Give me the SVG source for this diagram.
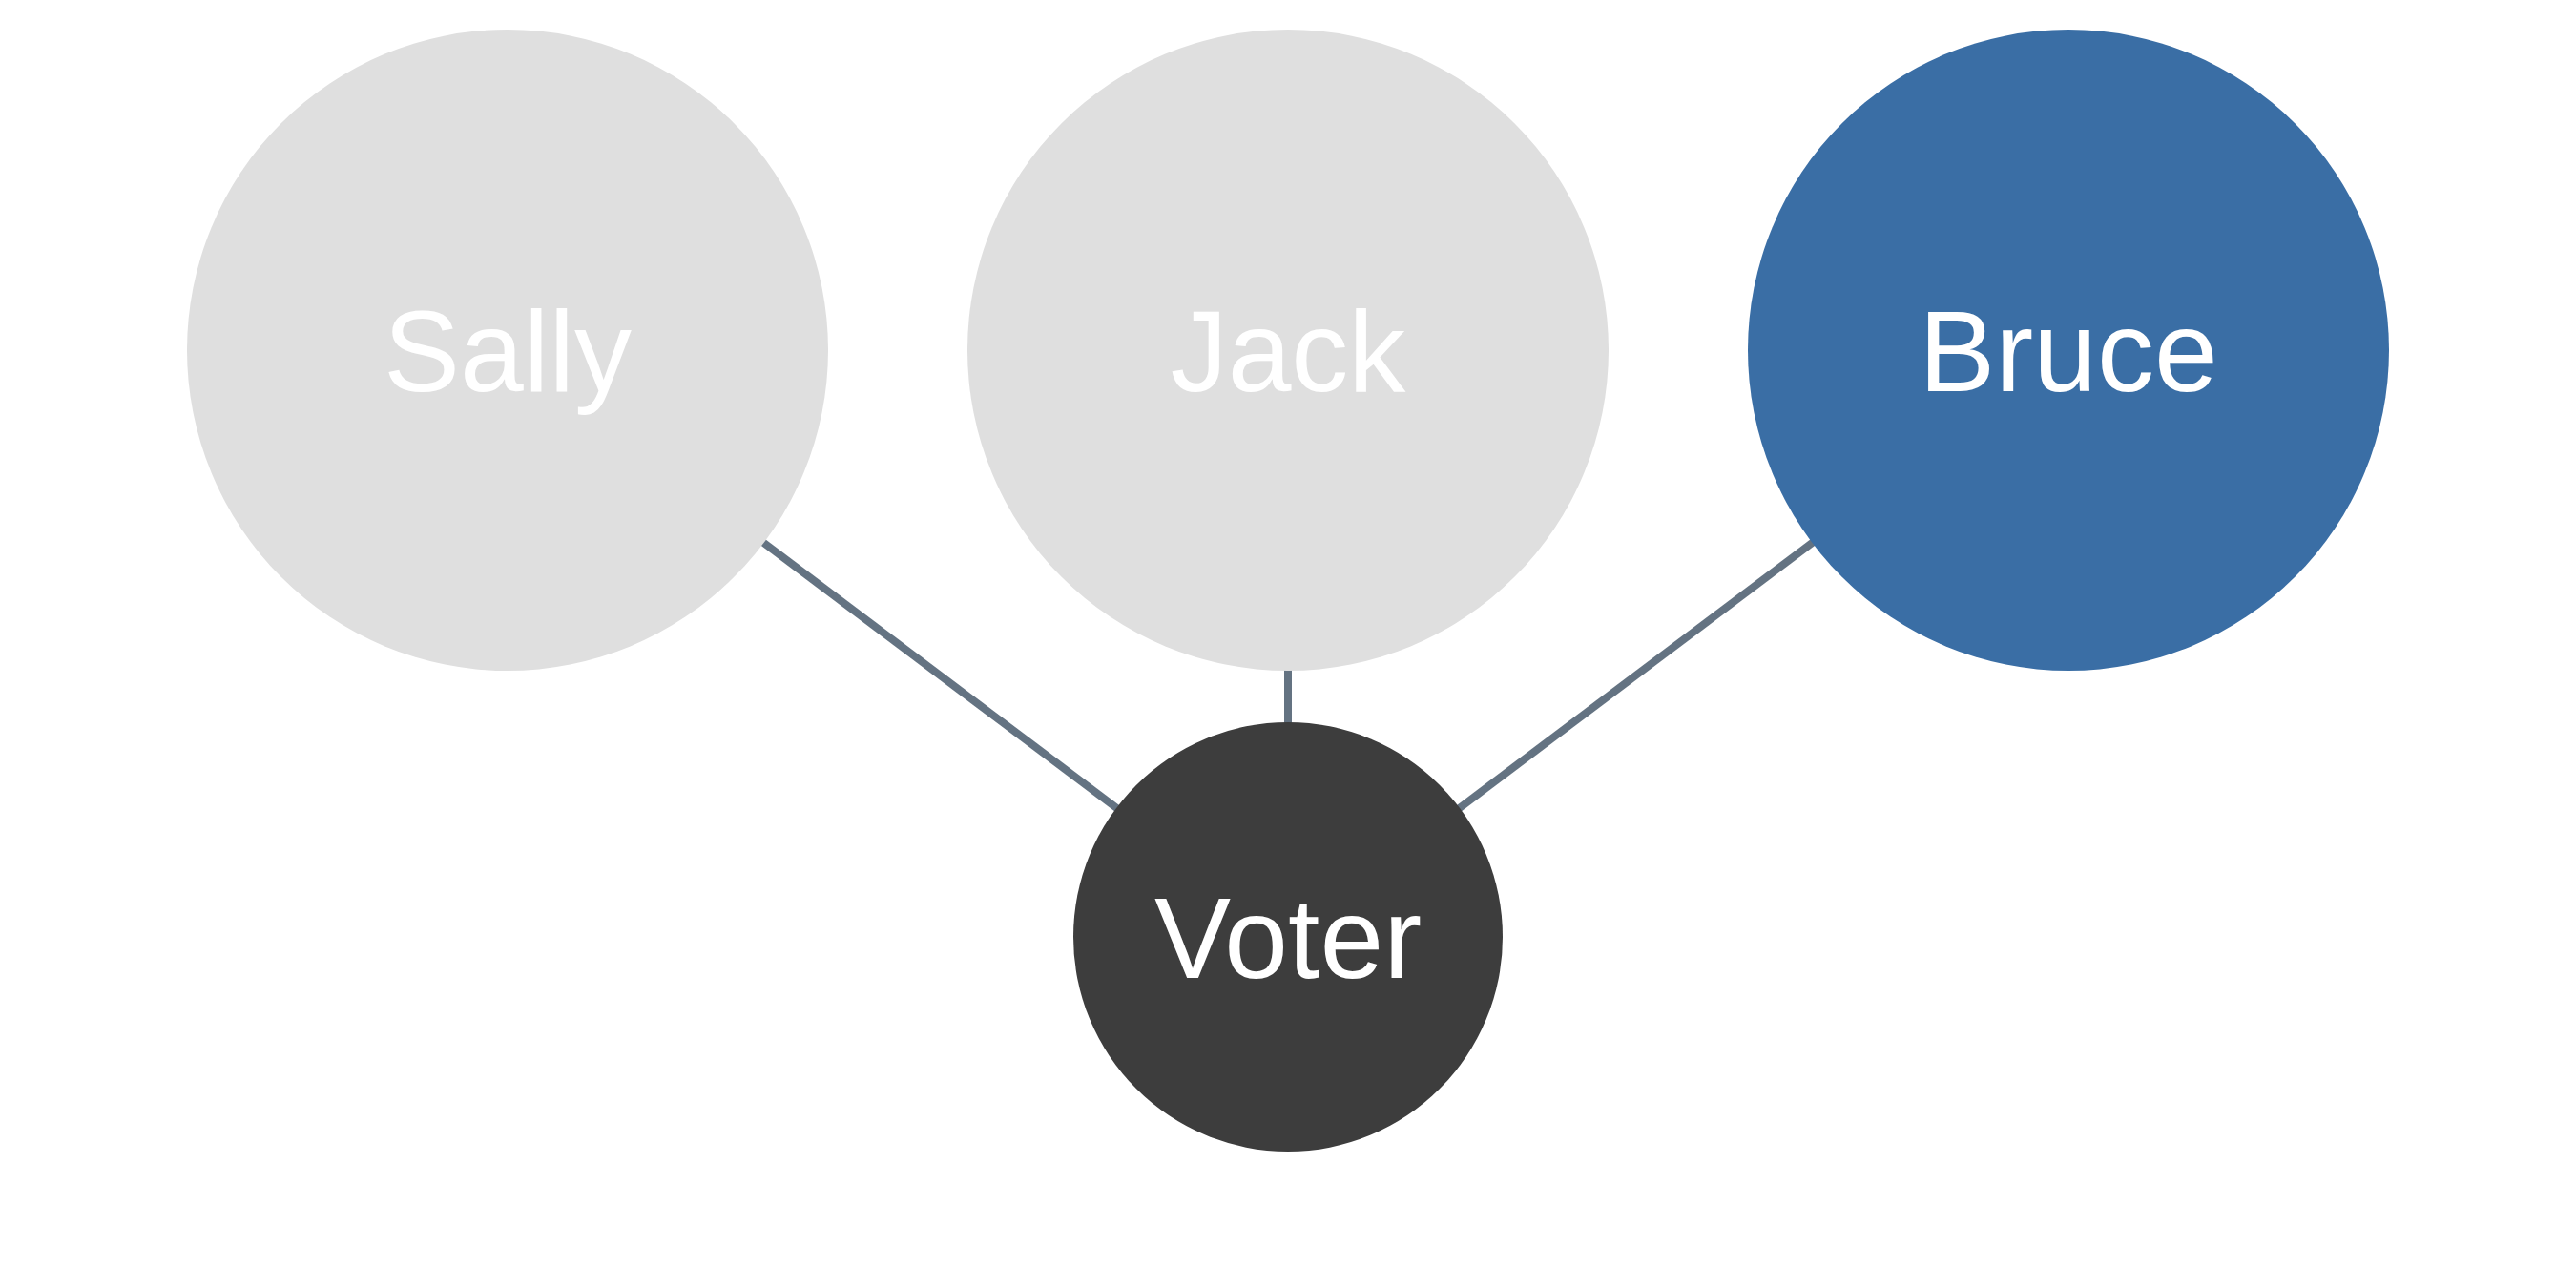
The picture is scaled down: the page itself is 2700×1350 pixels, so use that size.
<svg xmlns="http://www.w3.org/2000/svg" width="2700" height="1350" viewBox="0 0 2700 1350">
<style>
.edge{stroke:#647382;stroke-width:8;fill:none}
.lbl{font-family:"Liberation Sans",Arial,sans-serif;font-size:120px;fill:#ffffff;text-anchor:middle}
.grey{fill:#dfdfdf}
</style>
<rect width="2700" height="1350" fill="#ffffff"/>
<g id="connectors">
<line class="edge" x1="1350" y1="982" x2="532" y2="367"/>
<line class="edge" x1="1350" y1="982" x2="1350" y2="367"/>
<line class="edge" x1="1350" y1="982" x2="2168" y2="367"/>
</g>
<g id="node-sally">
<circle class="grey" cx="532" cy="367" r="336"/>
<text class="lbl" x="532" y="410">Sally</text>
</g>
<g id="node-jack">
<circle class="grey" cx="1350" cy="367" r="336"/>
<text class="lbl" x="1350" y="410">Jack</text>
</g>
<g id="node-bruce">
<circle cx="2168" cy="367" r="336" fill="#3a6ea5"/>
<text class="lbl" x="2168" y="410">Bruce</text>
</g>
<g id="node-voter">
<circle cx="1350" cy="982" r="225" fill="#3d3d3d"/>
<text class="lbl" x="1350" y="1025">Voter</text>
</g>
</svg>
